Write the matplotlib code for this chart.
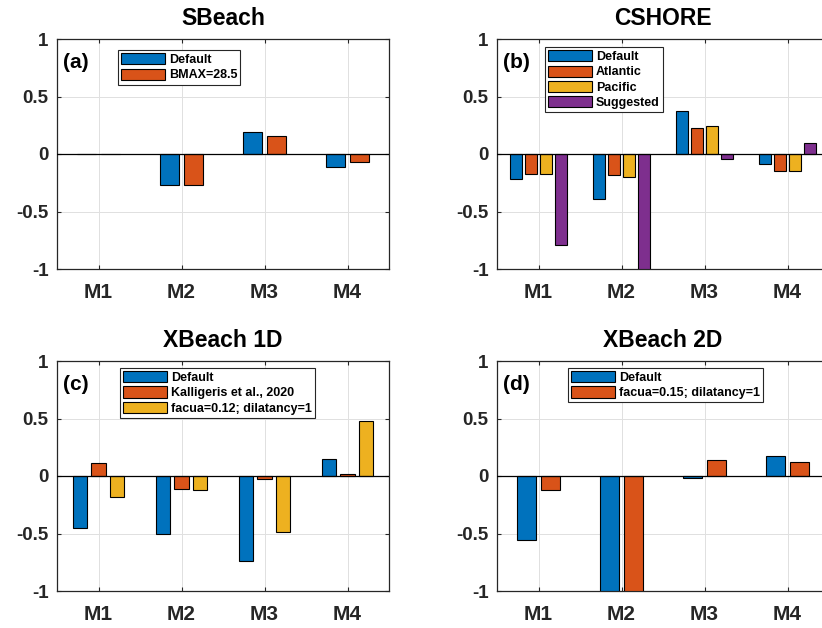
import numpy as np
import matplotlib
matplotlib.use("Agg")
import matplotlib.pyplot as plt

plt.rcParams['font.family'] = ['Liberation Sans', 'DejaVu Sans']
plt.rcParams['font.weight'] = 'bold'
plt.rcParams['axes.unicode_minus'] = False

sites = ['M1', 'M2', 'M3', 'M4']

# SBeach
sbeach_labels = ['Default', 'BMAX=28.5']
sbeach_default = [0.0, -0.27, 0.19, -0.11]
sbeach_bmax = [0.0, -0.27, 0.16, -0.07]

# CSHORE
cshore_labels = ['Default', 'Atlantic', 'Pacific', 'Suggested']
cshore_default = [-0.22, -0.39, 0.37, -0.09]
cshore_atlantic = [-0.17, -0.18, 0.23, -0.15]
cshore_pacific = [-0.17, -0.20, 0.24, -0.15]
cshore_suggested = [-0.79, -1.0, -0.04, 0.10]

# XBeach 1D
xb1_labels = ['Default', 'Kalligeris et al., 2020', 'facua=0.12; dilatancy=1']
xb1_default = [-0.45, -0.50, -0.74, 0.15]
xb1_kalligeris = [0.11, -0.11, -0.03, 0.02]
xb1_facua = [-0.18, -0.12, -0.49, 0.48]

# XBeach 2D
xb2_labels = ['Default', 'facua=0.15; dilatancy=1']
xb2_default = [-0.56, -1.0, -0.02, 0.17]
xb2_facua = [-0.12, -1.0, 0.14, 0.12]

colors = ['#0072BD', '#D95319', '#EDB120', '#7E2F8E']
axcol = '#262626'


def grouped_bars(ax, series, labels, title, tag, leg_xy):
    n = len(series)
    # same group spacing as MATLAB's bar(..., 'grouped')
    group_w = min(0.8, n / (n + 1.5))
    slot = group_w / n
    x = np.arange(1, len(sites) + 1)
    handles = []
    for i, vals in enumerate(series):
        off = -group_w / 2 + slot * (i + 0.5)
        h = ax.bar(x + off, vals, width=slot * 0.8, color=colors[i],
                   edgecolor='black', linewidth=0.8, zorder=3)
        handles.append(h)
    ax.axhline(0, color='black', lw=0.9, zorder=4)
    ax.set_xlim(0.5, 4.5)
    ax.set_ylim(-1, 1)
    ax.set_xticks(x)
    ax.set_xticklabels(sites, fontsize=15, fontweight='bold', color=axcol)
    ax.set_yticks([-1, -0.5, 0, 0.5, 1])
    ax.set_yticklabels(['-1', '-0.5', '0', '0.5', '1'], fontsize=13.5,
                       fontweight='bold', color=axcol)
    ax.tick_params(direction='in', length=3, width=0.8, colors=axcol,
                   top=True, right=True)
    ax.tick_params(axis='x', pad=10)
    ax.tick_params(axis='y', pad=6)
    ax.grid(True, color='#e0e0e0', lw=0.7)
    ax.set_axisbelow(True)
    for s in ax.spines.values():
        s.set_color(axcol)
        s.set_linewidth(0.9)
    ax.set_title(title, fontsize=16.5, fontweight='bold', pad=10)
    ax.text(0.018, 0.9, tag, transform=ax.transAxes, fontsize=15,
            fontweight='bold', va='center', ha='left')
    leg = ax.legend(handles, labels, loc='upper left', bbox_to_anchor=leg_xy,
                    prop={'weight': 'bold', 'size': 9},
                    handlelength=3.5, handleheight=1.0, handletextpad=0.3,
                    labelspacing=0.2, borderpad=0.25, borderaxespad=0,
                    fancybox=False, framealpha=1)
    leg.get_frame().set_edgecolor(axcol)
    leg.get_frame().set_linewidth(0.8)


fig = plt.figure(figsize=(8.22, 6.28), dpi=100)
w, h = 332 / 822, 230 / 628
ax_a = fig.add_axes([57 / 822, 1 - 269 / 628, w, h])
ax_b = fig.add_axes([497 / 822, 1 - 269 / 628, w, h])
ax_c = fig.add_axes([57 / 822, 1 - 591 / 628, w, h])
ax_d = fig.add_axes([497 / 822, 1 - 591 / 628, w, h])

grouped_bars(ax_a, [sbeach_default, sbeach_bmax], sbeach_labels,
             'SBeach', '(a)', (0.184, 0.952))
grouped_bars(ax_b, [cshore_default, cshore_atlantic, cshore_pacific, cshore_suggested],
             cshore_labels, 'CSHORE', '(b)', (0.145, 0.965))
grouped_bars(ax_c, [xb1_default, xb1_kalligeris, xb1_facua], xb1_labels,
             'XBeach 1D', '(c)', (0.19, 0.97))
grouped_bars(ax_d, [xb2_default, xb2_facua], xb2_labels,
             'XBeach 2D', '(d)', (0.214, 0.97))

fig.savefig('out.png', dpi=100)
